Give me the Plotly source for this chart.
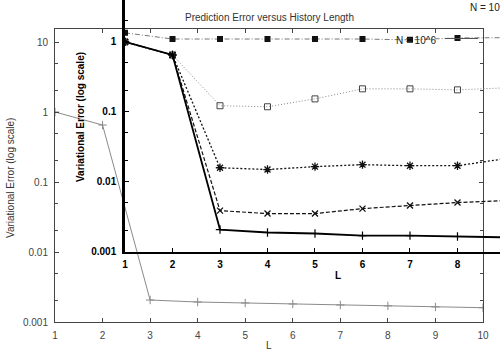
import plotly.graph_objects as go

# ---- data ----
L = [1, 2, 3, 4, 5, 6, 7, 8, 9, 10]
bg_err = [1.0, 0.652, 0.00206, 0.00193, 0.00187, 0.00181, 0.00175, 0.0017, 0.00164, 0.0016]
err_a = [1.35, 1.10, 1.10, 1.10, 1.10, 1.10, 1.07, 1.14, 1.15, 1.15]          # filled squares
err_b = [1.0, 0.65, 0.122, 0.118, 0.153, 0.213, 0.213, 0.206, 0.22, 0.22]     # open squares
err_c = [1.0, 0.65, 0.0158, 0.0149, 0.0164, 0.0175, 0.0169, 0.0169, 0.0213, 0.022]  # asterisks
err_d = [1.0, 0.65, 0.00385, 0.00349, 0.00349, 0.00411, 0.00455, 0.00502, 0.00536, 0.0055]  # x
err_e = [1.0, 0.65, 0.00206, 0.00187, 0.00181, 0.00169, 0.00169, 0.00164, 0.00159, 0.00155]  # +

bg_ticks = [10, 1, 0.1, 0.01, 0.001]
bg_tick_text = ["10", "1", "0.1", "0.01", "0.001"]
ov_ticks = [1, 0.1, 0.01, 0.001]
ov_tick_text = ["1", "0.1", "0.01", "0.001"]
x_ticks = [1, 2, 3, 4, 5, 6, 7, 8, 9, 10]

title = "Prediction Error versus History Length"
ytitle = "Variational Error (log scale)"
xtitle = "L"
legend_main = "N = 10^6"
legend_cut = ["N = 10^3", "N = 10^2"]

W, H = 500, 350
FONT = "Liberation Sans, Arial, sans-serif"
GRAY = "#444444"

def px(x):
    return x / W

def py(y):
    return 1 - y / H

fig = go.Figure()

# background plot
fig.add_trace(go.Scatter(
    x=L, y=bg_err, mode="lines+markers", xaxis="x", yaxis="y",
    line=dict(color="#8a8a8a", width=1),
    marker=dict(symbol="cross-thin-open", size=6, line=dict(color="#666666", width=1)),
    showlegend=False))

# overlay plot
fig.add_trace(go.Scatter(
    x=L, y=err_a, mode="lines+markers", xaxis="x2", yaxis="y2",
    line=dict(color="#777777", width=1, dash="5px,2px,1px,2px"),
    marker=dict(symbol="square", size=6, color="#111111"),
    showlegend=False))
fig.add_trace(go.Scatter(
    x=L, y=err_b, mode="lines+markers", xaxis="x2", yaxis="y2",
    line=dict(color="#888888", width=1, dash="1px,2px"),
    marker=dict(symbol="square-open", size=6, color="#444444", line=dict(width=1)),
    showlegend=False))
fig.add_trace(go.Scatter(
    x=L, y=err_c, mode="lines+markers", xaxis="x2", yaxis="y2",
    line=dict(color="#111111", width=1.3, dash="2px,2px"),
    marker=dict(symbol="asterisk-open", size=7, line=dict(color="#000000", width=1.3)),
    showlegend=False))
fig.add_trace(go.Scatter(
    x=L, y=err_d, mode="lines+markers", xaxis="x2", yaxis="y2",
    line=dict(color="#111111", width=1.2, dash="4px,2px"),
    marker=dict(symbol="x-thin-open", size=6, line=dict(color="#000000", width=1.3)),
    showlegend=False))
fig.add_trace(go.Scatter(
    x=L, y=err_e, mode="lines+markers", xaxis="x2", yaxis="y2",
    line=dict(color="#000000", width=1.8),
    marker=dict(symbol="cross-thin-open", size=6, line=dict(color="#000000", width=1.2)),
    showlegend=False))

bg_axis_common = dict(
    showline=True, linecolor=GRAY, linewidth=1, mirror="allticks",
    ticks="inside", ticklen=4, tickcolor=GRAY, tickwidth=1,
    showgrid=False, zeroline=False, automargin=False,
    tickfont=dict(family=FONT, size=10, color=GRAY),
)

fig.update_layout(
    width=W, height=H, margin=dict(l=0, r=0, t=0, b=0, autoexpand=False),
    paper_bgcolor="white", plot_bgcolor="rgba(0,0,0,0)",
    xaxis=dict(domain=[px(55), px(483)], range=[1, 10], anchor="y",
               tickvals=x_ticks, ticklabelstandoff=4, **bg_axis_common),
    yaxis=dict(domain=[py(322), py(29)], type="log", range=[-3, 1.186], anchor="x",
               tickvals=bg_ticks, ticktext=bg_tick_text, ticklabelstandoff=4,
               minor=dict(ticks="inside", ticklen=3, tickcolor=GRAY, dtick="D2", showgrid=False),
               **bg_axis_common),
    xaxis2=dict(domain=[px(125), 1.0], range=[1, 8.895], anchor="y2",
                showline=True, linecolor="#000000", linewidth=1.5, automargin=False,
                ticks="inside", ticklen=4, tickcolor="#000000", tickwidth=1,
                tickvals=x_ticks, showgrid=False, zeroline=False, ticklabelstandoff=3,
                tickfont=dict(family=FONT, size=10, color="#000000", weight="bold")),
    yaxis2=dict(domain=[py(251.5), 1.0], type="log", range=[-3, 0.6], anchor="x2",
                showline=True, linecolor="#000000", linewidth=2.5, automargin=False,
                ticks="inside", ticklen=4, tickcolor="#000000", tickwidth=1,
                tickvals=ov_ticks, ticktext=ov_tick_text, showgrid=False, zeroline=False,
                ticklabelstandoff=4,
                minor=dict(ticks="inside", ticklen=3, tickcolor="#000000", dtick="D2", showgrid=False),
                tickfont=dict(family=FONT, size=10, color="#000000", weight="bold")),
)

def note(text, x, y, size=10, color="#333333", xanchor="center", angle=0):
    return dict(text=text, x=px(x), y=py(y), xref="paper", yref="paper",
                xanchor=xanchor, yanchor="middle", textangle=angle, showarrow=False,
                font=dict(family=FONT, size=size, color=color))

ann = [
    note(title, 269, 17),
    note(xtitle, 269, 345),
    note(ytitle, 10, 178, angle=-90),
    note("<b>" + xtitle + "</b>", 338, 275, color="#000000"),
    note("<b>" + ytitle + "</b>", 80, 117, color="#000000", angle=-90),
    note(legend_main, 438, 40, color="#222222", xanchor="right"),
]
for i, t in enumerate(legend_cut):
    ann.append(note(t, 468, -3 + 10 * i, color="#222222", xanchor="left"))
fig.update_layout(annotations=ann)

fig.add_shape(type="line", xref="paper", yref="paper",
              x0=px(445), x1=px(478), y0=py(38.5), y1=py(38.5),
              line=dict(color="#555555", width=1))

fig.write_html("out.html", config={"displayModeBar": False},
               post_script="document.body.style.margin='0px';")
